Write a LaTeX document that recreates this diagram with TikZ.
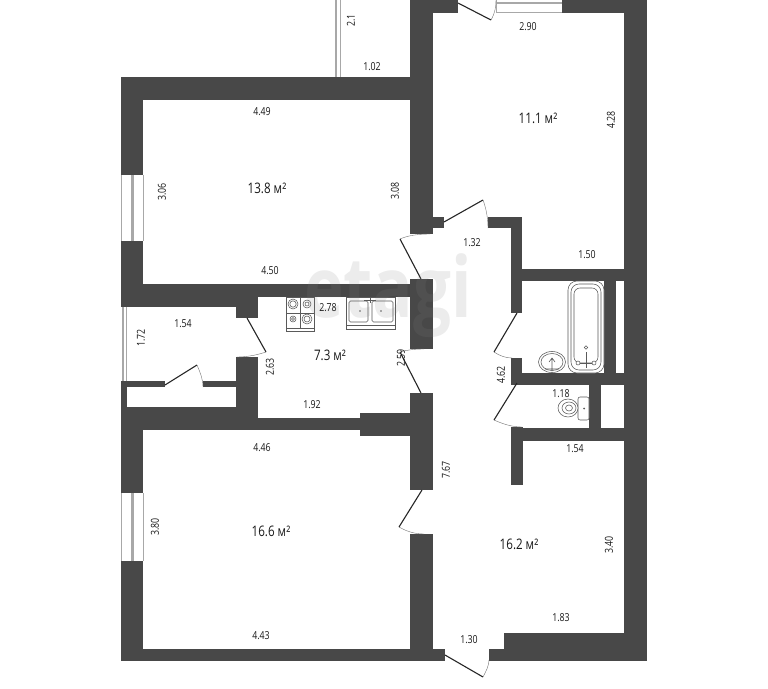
\documentclass[tikz,border=0pt]{standalone}
\usepackage{fontspec}
\setmainfont[FakeStretch=0.8]{Open Sans}
\definecolor{wallc}{HTML}{484848}
\definecolor{fixc}{HTML}{5A5A5A}
\definecolor{glassc}{HTML}{A8A8A8}
\begin{document}
\begin{tikzpicture}[x=1pt,y=-1pt,
  wall/.style={fill=wallc},
  leaf/.style={draw=black!85,line width=1.1pt},
  swing/.style={draw=black!55,line width=.4pt},
  fixt/.style={draw=fixc,line width=.55pt,fill=white},
  glass/.style={fill=glassc},
  lbl/.style={font=\fontsize{11}{12}\selectfont,text=black!90,inner sep=0pt},
  vlbl/.style={lbl,rotate=90},
  area/.style={font=\fontsize{14.5}{15}\selectfont,text=black!90,inner sep=0pt}]
\useasboundingbox (0,0) rectangle (768,688);
\fill[white] (0,0) rectangle (768,688);
% walls
\fill[wall] (121,77) rectangle (433,100);
\fill[wall] (121,77) rectangle (143,175);
\fill[wall] (121,241) rectangle (143,307);
\fill[wall] (410,0) rectangle (433,234);
\fill[wall] (433,217) rectangle (444,228);
\fill[wall] (433,0) rectangle (458,13);
\fill[wall] (562,0) rectangle (647,13);
\fill[wall] (624,0) rectangle (647,661);
\fill[wall] (121,284) rectangle (433,297);
\fill[wall] (121,284) rectangle (236,307);
\fill[wall] (236,284) rectangle (258,318);
\fill[wall] (410,279) rectangle (433,349);
\fill[wall] (236,357) rectangle (258,430);
\fill[wall] (121,381) rectangle (165,387);
\fill[wall] (203,381) rectangle (236,387);
\fill[wall] (121,381) rectangle (127,407);
\fill[wall] (121,407) rectangle (236,430);
\fill[wall] (236,418) rectangle (360,430);
\fill[wall] (360,413) rectangle (410,436);
\fill[wall] (410,393) rectangle (433,490);
\fill[wall] (121,407) rectangle (143,493);
\fill[wall] (121,561) rectangle (143,661);
\fill[wall] (410,534) rectangle (433,661);
\fill[wall] (121,649) rectangle (445,661);
\fill[wall] (489,649) rectangle (504,661);
\fill[wall] (504,633) rectangle (647,661);
\fill[wall] (488,217) rectangle (522,228);
\fill[wall] (511,217) rectangle (522,313);
\fill[wall] (511,269) rectangle (624,281);
\fill[wall] (604,281) rectangle (616,373);
\fill[wall] (511,358) rectangle (522,382);
\fill[wall] (511,373) rectangle (624,385);
\fill[wall] (589,385) rectangle (601,428);
\fill[wall] (511,428) rectangle (624,441);
\fill[wall] (511,427) rectangle (523,485);
% windows
\fill[glass] (130.5,175) rectangle (133.5,241);
\fill[glass] (130.5,493) rectangle (133.5,561);
\draw[draw=glassc,line width=.4pt] (121,175) -- (121,241) (143,175) -- (143,241) (121,493) -- (121,561) (143,493) -- (143,561);
\fill[glass] (122,307) rectangle (127,381);
\fill[white] (123.5,307) rectangle (125.5,381);
\fill[glass] (335,0) rectangle (341,77);
\fill[white] (336.5,0) rectangle (339.5,77);
\fill[glass] (496,1.5) rectangle (562,3.5);
\fill[glass] (496,12) rectangle (562,13);
\draw[draw=glassc,line width=.4pt] (496,0) -- (496,13);
% doors
\draw[leaf] (458,3) -- (491,20);
\draw[swing] (491,20) .. controls (495,13) and (496,7) .. (496,0);
\draw[leaf] (444,222) -- (483,200);
\draw[swing] (483,200) .. controls (486,208) and (488,218) .. (488,228);
\draw[leaf] (421,279) -- (400,239);
\draw[swing] (400,239) .. controls (409,235) and (420,234) .. (430,234);
\draw[leaf] (421,393) -- (400,352);
\draw[swing] (400,352) .. controls (407,350) and (414,349) .. (424,349);
\draw[leaf] (247,318) -- (266,352);
\draw[swing] (266,352) .. controls (257,355) and (247,357) .. (237,357);
\draw[leaf] (165,385) -- (197,365);
\draw[swing] (197,365) .. controls (200,372) and (203,379) .. (203,387);
\draw[leaf] (517,313) -- (494,352);
\draw[swing] (494,352) .. controls (500,356) and (506,358) .. (512,358);
\draw[leaf] (517,383) -- (494,420);
\draw[swing] (494,420) .. controls (503,424) and (512,427) .. (522,427);
\draw[leaf] (422,490) -- (399,527);
\draw[swing] (399,527) .. controls (406,531) and (414,534) .. (424,534);
\draw[leaf] (445,655) -- (483,677);
\draw[swing] (483,677) .. controls (486,671) and (489,666) .. (489,660);
% stove
\draw[fixt] (286,297) rectangle (314,331);
\draw[fixc,line width=.55pt] (286,328) -- (314,328) (300,297) -- (300,328) (286,313) -- (314,313);
\draw[fixt] (293,304) circle (5) (293,304) circle (3.2);
\draw[fixt] (307,304) circle (4) (307,304) circle (2);
\draw[fixt] (293,319) circle (3) (293,319) circle (1.4);
\draw[fixt] (307,319) circle (5) (307,319) circle (3);
% sink
\draw[fixt] (346,297) rectangle (395,329);
\draw[fixc,line width=.55pt] (346,325) -- (395,325);
\draw[fixt,rounded corners=1.5pt] (349,301) rectangle (368,322);
\draw[fixt,rounded corners=1.5pt] (372,301) rectangle (393,322);
\fill[fixc] (360,311) circle (.9) (381,311) circle (.9);
\draw[fixc,line width=.6pt] (364,300) -- (376,300) (370,297) -- (370,303);
% bath
\draw[fixt,rounded corners=9pt] (568,281) rectangle (604,373);
\draw[fixt,rounded corners=8pt] (571,284) rectangle (601,370);
\draw[fixt,rounded corners=6pt] (574,288) rectangle (598,363);
\draw[fixt] (586,347.5) circle (1.7);
\draw[fixc,line width=.55pt] (586,352) -- (586,368) (578,363) -- (594,363);
\draw[fixt] (578,363) circle (2) (594,363) circle (2);
% basin
\draw[fixt] (552,362) ellipse (13.5 and 10.5);
\draw[fixt] (552,362) ellipse (11 and 8.5);
\draw[fixc,line width=.6pt] (552,358) -- (552,371) (549,362) -- (552,358) -- (555,362) (545,369) -- (559,369);
% toilet
\draw[fixt,rounded corners=2pt] (578,397) rectangle (589,420);
\fill[fixc] (584,408.5) circle (1);
\draw[fixt] (568,408) ellipse (10 and 9);
\draw[fixt] (569,408) ellipse (7 and 6);
\draw[fixt] (569,408) ellipse (3.5 and 3);
% watermark
\node[font=\fontsize{84}{86}\selectfont\bfseries,text=gray,opacity=.15,inner sep=0pt] (wm) at (388,296) {etagi};
% labels
\node[lbl,rotate=90,anchor=east] (a0) at (351,14) {2.1};
\node[lbl] (a1) at (372,67) {1.02};
\node[lbl] (a2) at (528,27) {2.90};
\node[area] (a3) at (538,118) {11.1 м²};
\node[vlbl] (a4) at (611,120) {4.28};
\node[lbl] (a5) at (262,112) {4.49};
\node[area] (a6) at (267,188) {13.8 м²};
\node[vlbl] (a7) at (162,192) {3.06};
\node[vlbl] (a8) at (395,191) {3.08};
\node[lbl] (a9) at (270,271) {4.50};
\node[lbl] (a10) at (472,243) {1.32};
\node[lbl] (a11) at (587,255) {1.50};
\node[lbl] (a12) at (328,308) {2.78};
\node[area] (a13) at (330,355) {7.3 м²};
\node[lbl] (a14) at (183,324) {1.54};
\node[vlbl] (a15) at (141,338) {1.72};
\node[vlbl] (a16) at (270,367) {2.63};
\node[vlbl] (a17) at (401,358) {2.59};
\node[vlbl] (a18) at (501,375) {4.62};
\node[lbl] (a19) at (561,394) {1.18};
\node[lbl] (a20) at (575,449) {1.54};
\node[lbl] (a21) at (312,405) {1.92};
\node[lbl] (a22) at (262,448) {4.46};
\node[vlbl] (a23) at (446,470) {7.67};
\node[area] (a24) at (271,531) {16.6 м²};
\node[vlbl] (a25) at (155,527) {3.80};
\node[area] (a26) at (519,544) {16.2 м²};
\node[vlbl] (a27) at (609,545) {3.40};
\node[lbl] (a28) at (561,618) {1.83};
\node[lbl] (a29) at (469,640) {1.30};
\node[lbl] (a30) at (261,636) {4.43};
\end{tikzpicture}
\end{document}
